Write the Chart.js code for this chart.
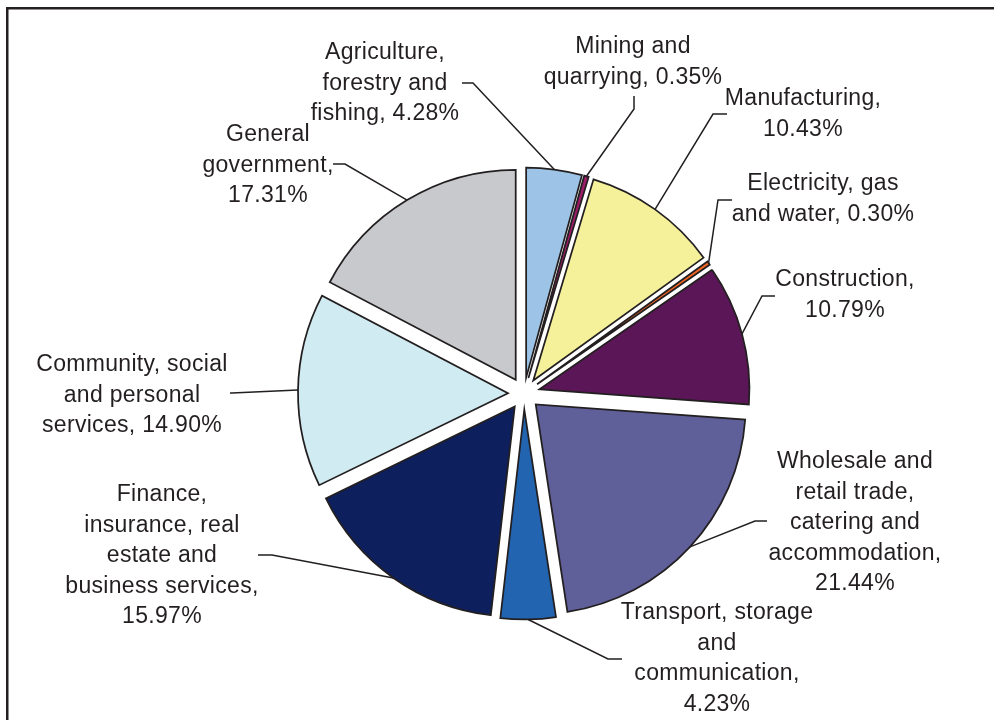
<!DOCTYPE html>
<html>
<head>
<meta charset="utf-8">
<title>GDP by industry</title>
<script src="https://cdn.jsdelivr.net/npm/chart.js@4.4.1/dist/chart.umd.min.js"></script>
<style>
  html, body { margin: 0; padding: 0; background: #fff; }
  #wrap { position: relative; width: 994px; height: 720px; }
</style>
</head>
<body>
<div id="wrap"><canvas id="pieChart"></canvas></div>
<script>
// industry shares of GDP, clockwise from 12 o'clock
const sectors = [
  "Agriculture,\nforestry and\nfishing",
  "Mining and\nquarrying",
  "Manufacturing",
  "Electricity, gas\nand water",
  "Construction",
  "Wholesale and\nretail trade,\ncatering and\naccommodation",
  "Transport, storage\nand\ncommunication",
  "Finance,\ninsurance, real\nestate and\nbusiness services",
  "Community, social\nand personal\nservices",
  "General\ngovernment"
];
const shares = [4.28, 0.35, 10.43, 0.30, 10.79, 21.44, 4.23, 15.97, 14.90, 17.31];
const sliceColors = [
  "#9dc3e6", "#9c1c68", "#f5f19a", "#f26522", "#5b1657",
  "#5f5f99", "#2264b0", "#0d1f5c", "#d0ebf2", "#c8c9cc"
];
// value on the same line (" ") or on its own line ("\n")
const valueBreak = [" ", " ", "\n", " ", "\n", "\n", "\n", "\n", " ", "\n"];

// where each callout sits: text centre x, first line y, elbow of the leader
const labelSpots = [
  { x: 385, y: 53,  knee: [[462, 83], [473, 83]] },
  { x: 633, y: 47,  knee: [[634, 96], [634, 109]] },
  { x: 803, y: 99,  knee: [[727, 114], [713, 114]] },
  { x: 823, y: 184, knee: [[732, 200], [718, 200]] },
  { x: 845, y: 280, knee: [[775, 296], [762, 296]] },
  { x: 855, y: 462, knee: [[767, 521], [755, 521]] },
  { x: 717, y: 613, knee: [[622, 659], [608, 659]] },
  { x: 162, y: 495, knee: [[258, 555], [272, 555]] },
  { x: 132, y: 365, knee: [[230, 393], [232, 393]] },
  { x: 268, y: 135, knee: [[333, 164], [345, 164]] }
];

const ink = "#231f20";
const explodeBy = 16;
const lineGap = 30.5;

// push every slice out from the centre along its middle angle
const explode = {
  id: "explode",
  afterDatasetsUpdate(chart) {
    const a = chart.chartArea;
    const cx = (a.left + a.right) / 2;
    const cy = (a.top + a.bottom) / 2;
    chart.getDatasetMeta(0).data.forEach(arc => {
      const mid = (arc.startAngle + arc.endAngle) / 2;
      arc.x = cx + Math.cos(mid) * explodeBy;
      arc.y = cy + Math.sin(mid) * explodeBy;
    });
  }
};

// open frame along the top and left edges
const frame = {
  id: "frame",
  beforeDraw(chart) {
    const ctx = chart.ctx;
    ctx.save();
    ctx.fillStyle = ink;
    ctx.fillRect(6, 7, chart.width - 6, 2.5);
    ctx.fillRect(6, 7, 2.5, chart.height - 7);
    ctx.restore();
  }
};

// text callouts with leader lines to the middle of each slice's rim
const callouts = {
  id: "callouts",
  afterDatasetsDraw(chart) {
    const ctx = chart.ctx;
    const arcs = chart.getDatasetMeta(0).data;
    ctx.save();
    ctx.strokeStyle = ink;
    ctx.lineWidth = 1.5;
    ctx.fillStyle = ink;
    ctx.font = "23px 'Liberation Sans', Arial, sans-serif";
    ctx.letterSpacing = "0.3px";
    ctx.textAlign = "center";
    ctx.textBaseline = "middle";
    arcs.forEach((arc, i) => {
      const spot = labelSpots[i];
      const mid = (arc.startAngle + arc.endAngle) / 2;
      const ex = arc.x + Math.cos(mid) * arc.outerRadius;
      const ey = arc.y + Math.sin(mid) * arc.outerRadius;
      ctx.beginPath();
      ctx.moveTo(spot.knee[0][0], spot.knee[0][1]);
      ctx.lineTo(spot.knee[1][0], spot.knee[1][1]);
      ctx.lineTo(ex, ey);
      ctx.stroke();

      const text = sectors[i] + "," + valueBreak[i] + shares[i].toFixed(2) + "%";
      text.split("\n").forEach((line, k) => {
        ctx.fillText(line, spot.x, spot.y + k * lineGap);
      });
    });
    ctx.restore();
  }
};

new Chart(document.getElementById("pieChart"), {
  type: "pie",
  data: {
    labels: sectors,
    datasets: [{
      data: shares,
      backgroundColor: sliceColors,
      borderColor: ink,
      borderWidth: 1.75,
      borderJoinStyle: "miter"
    }]
  },
  options: {
    responsive: true,
    maintainAspectRatio: false,
    animation: false,
    events: [],
    radius: 210,
    layout: { padding: { left: 54, right: 0, top: 67, bottom: 0 } },
    plugins: {
      legend: { display: false },
      tooltip: { enabled: false }
    }
  },
  plugins: [frame, explode, callouts]
});
</script>
</body>
</html>
